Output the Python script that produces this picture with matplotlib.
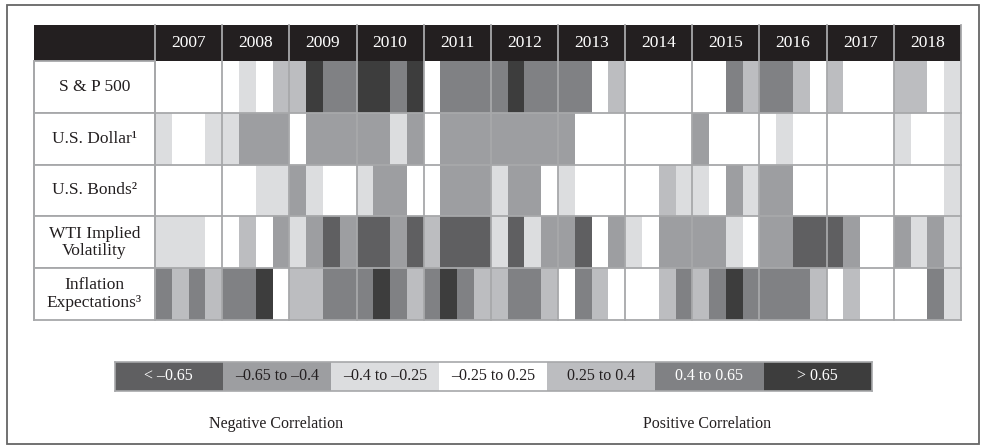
import matplotlib

matplotlib.use("Agg")
import matplotlib.pyplot as plt  # noqa: E402
import numpy as np  # noqa: E402
from matplotlib.colors import BoundaryNorm, ListedColormap  # noqa: E402
from matplotlib.patches import Rectangle  # noqa: E402

# categories: 0 "< -0.65" ... 6 "> 0.65"; one value per quarter, 2007Q1..2018Q4
YEARS = [str(y) for y in range(2007, 2019)]
ROWS = ["S & P 500", "U.S. Dollar¹", "U.S. Bonds²", "WTI Implied\nVolatility", "Inflation\nExpectations³"]

SP500 = [3, 3, 3, 3, 3, 2, 3, 4, 4, 6, 5, 5, 6, 6, 5, 6, 3, 5, 5, 5, 5, 6, 5, 5,
         5, 5, 3, 4, 3, 3, 3, 3, 3, 3, 5, 4, 5, 5, 4, 3, 4, 3, 3, 3, 4, 4, 3, 2]
USD = [2, 3, 3, 2, 2, 1, 1, 1, 3, 1, 1, 1, 1, 1, 2, 1, 3, 1, 1, 1, 1, 1, 1, 1,
       1, 3, 3, 3, 3, 3, 3, 3, 1, 3, 3, 3, 3, 2, 3, 3, 3, 3, 3, 3, 2, 3, 3, 2]
BONDS = [3, 3, 3, 3, 3, 3, 2, 2, 1, 2, 3, 3, 2, 1, 1, 3, 3, 1, 1, 1, 2, 1, 1, 3,
         2, 3, 3, 3, 3, 3, 4, 2, 2, 3, 1, 2, 1, 1, 3, 3, 3, 3, 3, 3, 3, 3, 3, 2]
WTI = [2, 2, 2, 3, 3, 4, 3, 1, 2, 1, 0, 1, 0, 0, 1, 0, 4, 0, 0, 0, 2, 0, 2, 1,
       1, 0, 3, 1, 2, 3, 1, 1, 1, 1, 2, 3, 1, 1, 0, 0, 0, 1, 3, 3, 1, 2, 1, 2]
INFL = [5, 4, 5, 4, 5, 5, 6, 3, 4, 4, 5, 5, 5, 6, 5, 4, 5, 6, 5, 4, 4, 5, 5, 4,
        3, 5, 4, 3, 3, 3, 4, 5, 4, 5, 6, 5, 5, 5, 5, 4, 3, 4, 3, 3, 3, 3, 5, 2]

BINS = ["< –0.65", "–0.65 to –0.4", "–0.4 to –0.25", "–0.25 to 0.25",
        "0.25 to 0.4", "0.4 to 0.65", "> 0.65"]
COLORS = ["#5f5f61", "#9d9ea1", "#dcdddf", "#ffffff", "#bcbdc0", "#808184", "#3d3d3d"]
TEXT_ON = ["white", "#231f20", "#231f20", "#231f20", "#231f20", "white", "white"]

GRID = "#a7a8aa"
HEAD = "#231f20"
INK = "#231f20"
SERIF = "Liberation Serif"
W, H = 986, 445
cmap = ListedColormap(COLORS)
norm = BoundaryNorm(np.arange(-0.5, 7.5, 1), cmap.N)

fig = plt.figure(figsize=(W / 100, H / 100), dpi=100)
fig.patch.set_facecolor("white")
fig.add_artist(Rectangle((7 / W, 1 / H), 972 / W, 439 / H, transform=fig.transFigure,
                         fill=False, edgecolor="#666", lw=1.3))

# ── table body ──
x0, x1, y0, y1 = 155, 961, 61, 320
ax = fig.add_axes([x0 / W, 1 - y1 / H, (x1 - x0) / W, (y1 - y0) / H])
data = np.array([SP500, USD, BONDS, WTI, INFL])
nq = data.shape[1]
ax.pcolormesh(np.arange(nq + 1), np.arange(len(ROWS) + 1), data, cmap=cmap, norm=norm)
ax.set_xlim(0, nq)
ax.set_ylim(len(ROWS), 0)
ax.axis("off")

qpx = (x1 - x0) / nq                 # pixels per quarter
rpx = (y1 - y0) / len(ROWS)          # pixels per row
lab_w = (x0 - 34) / qpx              # label column width in quarters
head_h = (y0 - 25) / rpx             # header height in rows

# header band and year labels
ax.add_patch(Rectangle((-lab_w, -head_h), nq + lab_w, head_h, facecolor=HEAD,
                       edgecolor="none", clip_on=False))
for i, yr in enumerate(YEARS):
    ax.text(i * 4 + 2, -head_h / 2, yr, ha="center", va="center", color="white",
            fontsize=12.5, family=SERIF, clip_on=False)

# label column
for r, name in enumerate(ROWS):
    ax.add_patch(Rectangle((-lab_w, r), lab_w, 1, facecolor="white", edgecolor=GRID,
                           lw=1.3, clip_on=False))
    ax.text(-lab_w / 2, r + 0.5, name, ha="center", va="center", color=INK,
            fontsize=12.5, family=SERIF, linespacing=1.12, clip_on=False)

# year separators and row lines
for k in range(0, nq + 1, 4):
    ax.plot([k, k], [-head_h, len(ROWS)], color=GRID, lw=1.3, clip_on=False)
for r in range(1, len(ROWS) + 1):
    ax.plot([0, nq], [r, r], color=GRID, lw=1.3, clip_on=False)
ax.plot([-lab_w, -lab_w], [0, len(ROWS)], color=GRID, lw=1.3, clip_on=False)

# ── legend bar ──
lx0, lx1, ly0, ly1 = 114.5, 871.7, 362, 391
lax = fig.add_axes([lx0 / W, 1 - ly1 / H, (lx1 - lx0) / W, (ly1 - ly0) / H])
lax.pcolormesh(np.arange(len(BINS) + 1), [0, 1], np.arange(len(BINS))[None, :], cmap=cmap, norm=norm)
lax.set_xlim(0, len(BINS))
lax.set_ylim(0, 1)
for i, (lab, tc) in enumerate(zip(BINS, TEXT_ON)):
    lax.text(i + 0.5, 0.5, lab, ha="center", va="center", color=tc, fontsize=11.5,
             family=SERIF)
lax.set_xticks([])
lax.set_yticks([])
for sp in lax.spines.values():
    sp.set_color(GRID)
    sp.set_linewidth(1.2)

fig.text(276 / W, 1 - 424 / H, "Negative Correlation", ha="center", va="center",
         fontsize=11.5, family=SERIF, color=INK)
fig.text(707 / W, 1 - 424 / H, "Positive Correlation", ha="center", va="center",
         fontsize=11.5, family=SERIF, color=INK)

fig.savefig("out.png", dpi=100)
